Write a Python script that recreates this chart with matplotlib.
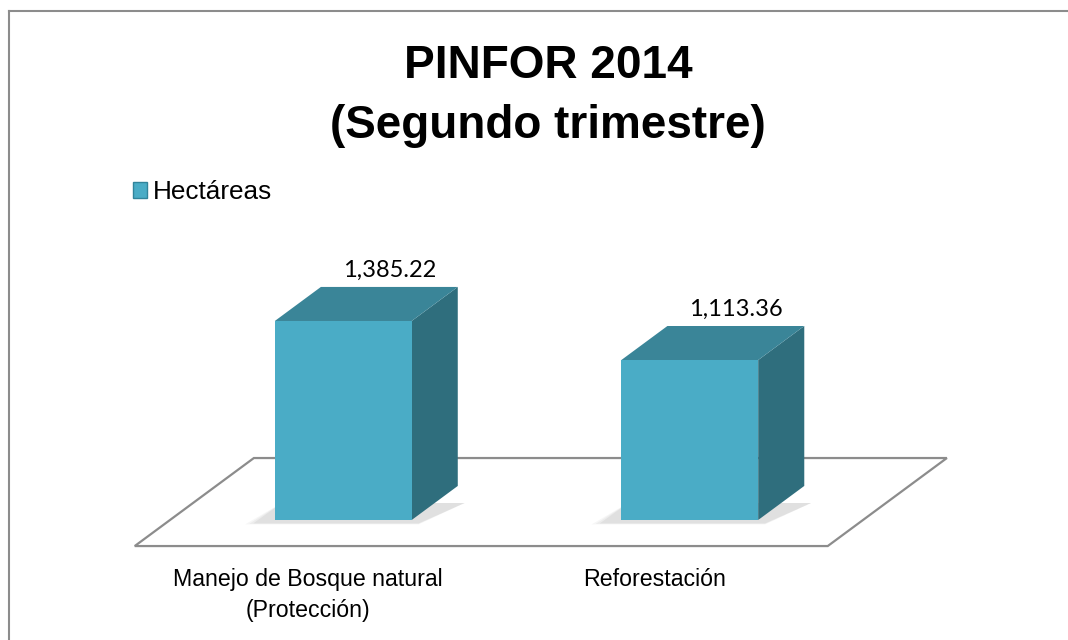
import matplotlib.pyplot as plt
from matplotlib.patches import Polygon, Patch

# data
categories = ['Manejo de Bosque natural\n(Protección)', 'Reforestación']
hectareas = [1385.22, 1113.36]
value_labels = ['1,385.22', '1,113.36']
series_name = 'Hectáreas'
title = 'PINFOR 2014\n(Segundo trimestre)'

# colours
FRONT = '#4aacc6'
TOP = '#3a8598'
SIDE = '#2f6e7d'
FLOOR = '#8c8c8c'

plt.rcParams['font.family'] = ['Liberation Sans', 'DejaVu Sans']

fig = plt.figure(figsize=(10.68, 6.4), dpi=100)
ax = fig.add_axes([170 / 1068, 120 / 640, 693 / 1068, 431 / 640])
ax.set_xlim(0, len(categories))
ax.set_ylim(0, 3000)
ax.axis('off')

# oblique depth of one bar, in data units
ddx = 0.133
ddy = 237
bar_w = 0.395
floor_front = -0.765
floor_back = 1.82

# floor
n = len(categories)
fx0, fx1 = 0 + floor_front * ddx, n + floor_front * ddx
fy0 = floor_front * ddy
bx0, bx1 = 0 + floor_back * ddx, n + floor_back * ddx
by0 = floor_back * ddy
ax.add_patch(Polygon([(fx0, fy0), (fx1, fy0), (bx1, by0), (bx0, by0)],
                     closed=True, facecolor='white', edgecolor=FLOOR,
                     lw=1.6, clip_on=False, zorder=1))

for i, (cat, val, lab) in enumerate(zip(categories, hectareas, value_labels)):
    x0 = i + 0.5 - bar_w / 2
    x1 = i + 0.5 + bar_w / 2

    # soft shadow at the base
    for k, a in enumerate([0.05, 0.06, 0.08]):
        g = (3 - k) * 0.012
        ax.add_patch(Polygon([(x0 - 0.05 - g, -20 - g * 300), (x1 + 0.02, -20 - g * 300),
                              (x1 + ddx + 0.02, ddy * 0.5), (x0 + 0.02, ddy * 0.5)],
                             closed=True, facecolor='#555555', edgecolor='none',
                             alpha=a, clip_on=False, zorder=2))

    # front, side, top faces
    ax.add_patch(Polygon([(x0, 0), (x1, 0), (x1, val), (x0, val)],
                         closed=True, facecolor=FRONT, edgecolor='none',
                         clip_on=False, zorder=4))
    ax.add_patch(Polygon([(x1, 0), (x1 + ddx, ddy), (x1 + ddx, val + ddy), (x1, val)],
                         closed=True, facecolor=SIDE, edgecolor='none',
                         clip_on=False, zorder=3))
    ax.add_patch(Polygon([(x0, val), (x1, val), (x1 + ddx, val + ddy), (x0 + ddx, val + ddy)],
                         closed=True, facecolor=TOP, edgecolor='none',
                         clip_on=False, zorder=3))

    # value label
    ax.annotate(lab, xy=(i + 0.5 + ddx, val + ddy), xytext=(0, 6),
                textcoords='offset pixels', ha='center', va='bottom',
                fontsize=17, family=['Lato', 'DejaVu Sans'], zorder=5,
                annotation_clip=False)

    # category label
    ax.annotate(cat, xy=(i + 0.5 + floor_front * ddx, fy0), xytext=(0, -22),
                textcoords='offset pixels', ha='center', va='top',
                fontsize=16.7, linespacing=1.45, zorder=5,
                annotation_clip=False)

# title
fig.text(548 / 1068, 1 - 96 / 640, title, ha='center', va='center',
         fontsize=33, fontweight='bold', linespacing=1.45)

# legend
handle = Patch(facecolor=FRONT, edgecolor='#31849b', lw=1)
fig.legend([handle], [series_name], loc='center left',
           bbox_to_anchor=(133 / 1068, 1 - 192 / 640), frameon=False,
           fontsize=18.8, handlelength=0.55, handleheight=0.55,
           handletextpad=0.2, borderpad=0, borderaxespad=0)

# chart border (only left and top visible)
fig.add_artist(plt.Line2D([9 / 1068, 9 / 1068], [0, 1 - 11 / 640],
                          color='#8c8c8c', lw=1.5, transform=fig.transFigure))
fig.add_artist(plt.Line2D([9 / 1068, 1], [1 - 11 / 640, 1 - 11 / 640],
                          color='#8c8c8c', lw=1.5, transform=fig.transFigure))

fig.savefig('out.png', dpi=100, facecolor='white')
